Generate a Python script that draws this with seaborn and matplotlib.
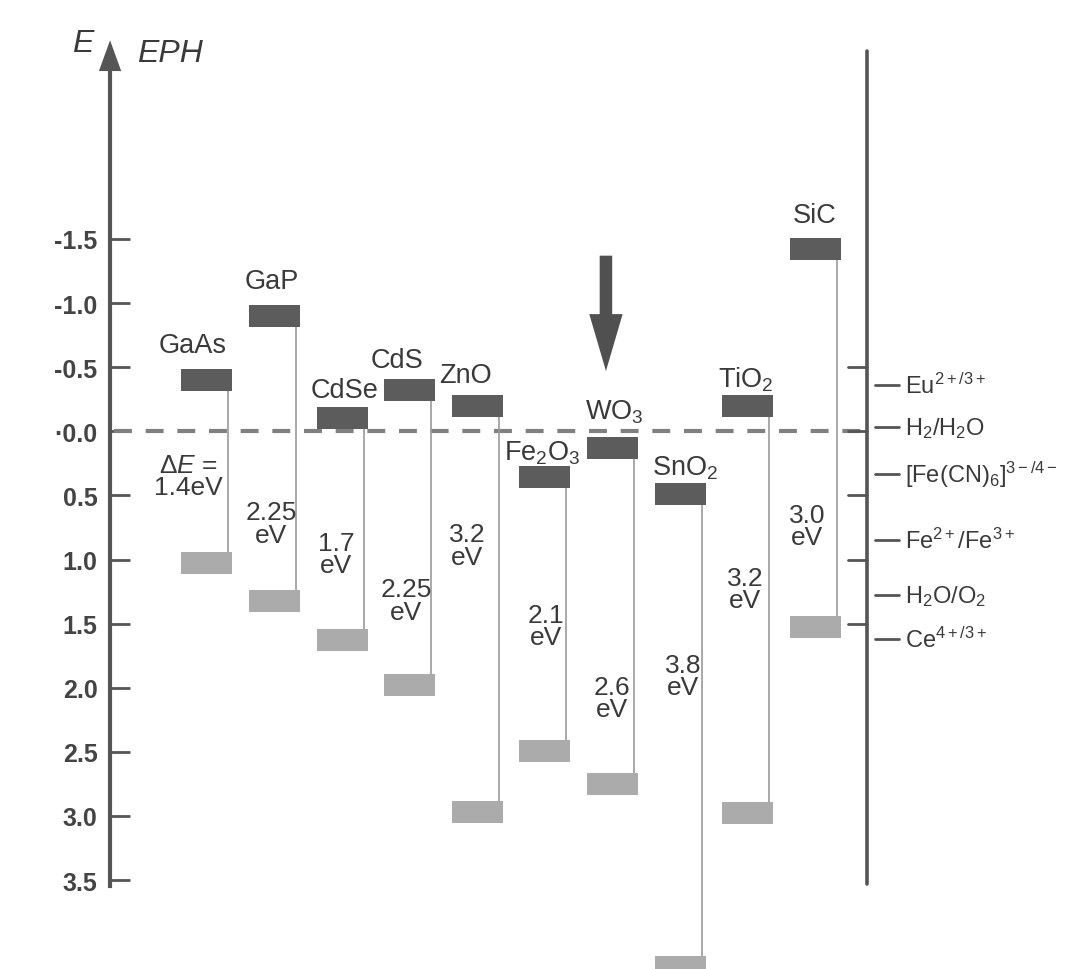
import numpy as np
import pandas as pd
import matplotlib
matplotlib.use("Agg")
import matplotlib.pyplot as plt
import seaborn as sns
from matplotlib.path import Path

# --- DATA (energies vs. NHE, eV) ---
materials = ["GaAs", "GaP", "CdSe", "CdS", "ZnO", "Fe$_2$O$_3$", "WO$_3$", "SnO$_2$", "TiO$_2$", "SiC"]
cb_level = [-0.40, -0.90, -0.10, -0.32, -0.20, 0.36, 0.13, 0.49, -0.20, -1.42]
vb_level = [1.03, 1.32, 1.63, 1.98, 2.97, 2.49, 2.75, 4.18, 2.98, 1.53]
gap_text = ["$\\Delta E$ =\n1.4eV", "2.25\neV", "1.7\neV", "2.25\neV", "3.2\neV",
            "2.1\neV", "2.6\neV", "3.8\neV", "3.2\neV", "3.0\neV"]

redox_names = ["Eu$^{2+/3+}$", "H$_2$/H$_2$O", "[Fe(CN)$_6$]$^{3-/4-}$",
               "Fe$^{2+}$/Fe$^{3+}$", "H$_2$O/O$_2$", "Ce$^{4+/3+}$"]
redox_level = [-0.36, -0.03, 0.33, 0.85, 1.28, 1.62]

tick_values = [-1.5, -1.0, -0.5, 0.0, 0.5, 1.0, 1.5, 2.0, 2.5, 3.0, 3.5]
tick_labels = ["-1.5", "-1.0", "-0.5", "·0.0", "0.5", "1.0", "1.5", "2.0", "2.5", "3.0", "3.5"]

# label layout (x offset from material slot, y in eV)
name_dx = [-0.21, -0.04, 0.04, -0.18, -0.17, -0.04, 0.03, 0.08, -0.02, 0.0]
name_y = [-0.67, -1.17, -0.32, -0.56, -0.44, 0.16, -0.16, 0.28, -0.41, -1.69]
gap_dx = [-0.27, -0.04, -0.08, -0.05, -0.14, 0.02, 0.0, 0.05, -0.03, -0.11]
gap_y = [0.35, 0.72, 0.955, 1.32, 0.89, 1.52, 2.08, 1.91, 1.23, 0.74]

idx = np.arange(len(materials))
df = pd.DataFrame({"pos": idx, "cb": cb_level, "vb": vb_level})

# --- STYLE ---
sns.set_style("white")
plt.rcParams["font.family"] = ["Liberation Sans", "DejaVu Sans"]
plt.rcParams["mathtext.fontset"] = "custom"
plt.rcParams["mathtext.rm"] = "Liberation Sans"
plt.rcParams["mathtext.it"] = "Liberation Sans:italic"
plt.rcParams["mathtext.bf"] = "Liberation Sans:bold"

dark = "#555555"
txt = "#3a3a3a"

fig = plt.figure(figsize=(10.65, 9.7), dpi=100)
ax = fig.add_axes([0, 0, 1, 1])
ax.set_xlim(-3.053, 12.70)
ax.set_ylim(4.194, -3.372)

x_left = -1.425
x_right = 9.77

# band boxes as wide rectangle markers
box = Path([(-1, -0.412), (1, -0.412), (1, 0.412), (-1, 0.412), (-1, -0.412)],
           [Path.MOVETO, Path.LINETO, Path.LINETO, Path.LINETO, Path.CLOSEPOLY])
box_s = (51 * 72 / 100) ** 2

# zero line (H2/H2O)
ax.plot([x_left + 0.06, x_right], [0, 0], color="#808080", lw=3,
        dashes=(4.3, 3.3), zorder=1)

# gap lines
for i, (c, v) in enumerate(zip(cb_level, vb_level)):
    ax.plot([i + 0.325, i + 0.325], [c, v], color="#9a9a9a", lw=1.2, zorder=2)

sns.scatterplot(data=df, x="pos", y="cb", marker=box, s=box_s, color="#5c5c5c",
                linewidth=0, ax=ax, zorder=3, legend=False)
sns.scatterplot(data=df, x="pos", y="vb", marker=box, s=box_s, color="#ababab",
                linewidth=0, ax=ax, zorder=3, legend=False)

# material names and gap labels
for i, name in enumerate(materials):
    ax.text(i + name_dx[i], name_y[i], name, ha="center", va="center",
            fontsize=19.5, color=txt)
    ax.text(i + gap_dx[i], gap_y[i], gap_text[i], ha="center", va="center",
            fontsize=19, color=txt, linespacing=0.92)

# left energy axis
for s in ["top", "right", "bottom"]:
    ax.spines[s].set_visible(False)
ax.spines["left"].set_position(("data", x_left))
ax.spines["left"].set_bounds(-2.83, 3.55)
ax.spines["left"].set_color(dark)
ax.spines["left"].set_linewidth(3)
ax.set_yticks(tick_values)
ax.set_yticklabels(tick_labels, fontweight="bold")
ax.tick_params(axis="y", direction="in", length=14.5, width=2, color=dark,
               pad=9, labelsize=18, labelcolor="#444444", left=True)
ax.set_xticks([])
ax.set_xlabel("")
ax.set_ylabel("")
ax.fill([x_left - 0.165, x_left + 0.165, x_left], [-2.81, -2.81, -3.05],
        color=dark, lw=0, zorder=4)
ax.text(x_left - 0.41, -3.03, "E", fontsize=23, style="italic", color=txt,
        ha="center", va="center")
ax.text(x_left + 0.88, -2.95, "EPH", fontsize=23, style="italic", color=txt,
        ha="center", va="center")

# right redox axis
ax.plot([x_right, x_right], [-2.965, 3.53], color=dark, lw=2.6, zorder=2)
for t in [-0.5, 0.0, 0.5, 1.0, 1.5]:
    ax.plot([x_right - 0.28, x_right], [t, t], color=dark, lw=2, zorder=2)
for name, lvl in zip(redox_names, redox_level):
    ax.plot([9.89, 10.25], [lvl, lvl], color=dark, lw=2, zorder=2)
    ax.text(10.33, lvl, name, fontsize=17, color=txt, ha="left", va="center")

# arrow pointing at WO3
ax.annotate("", xy=(5.91, -0.47), xytext=(5.91, -1.37),
            arrowprops=dict(facecolor="#505050", edgecolor="none", width=9,
                            headwidth=24, headlength=41, shrink=0))

fig.savefig("out.png", dpi=100, facecolor="white")
